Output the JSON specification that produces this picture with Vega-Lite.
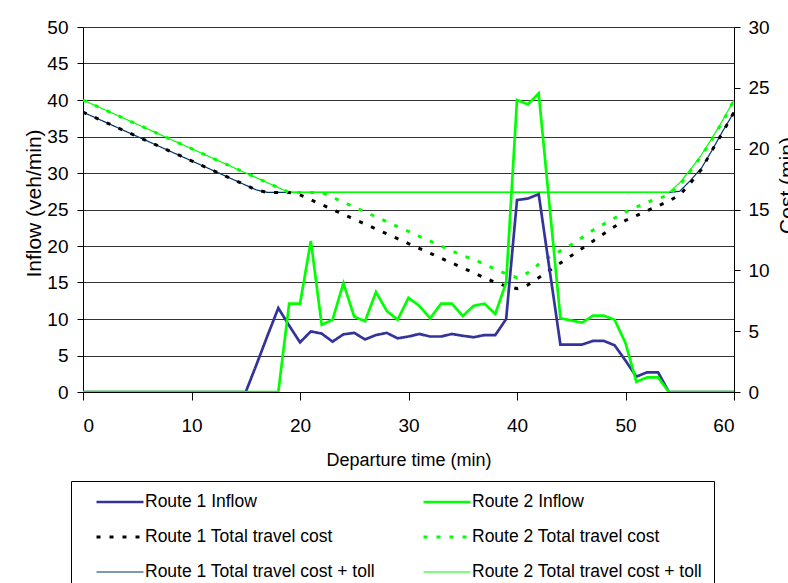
{
  "$schema": "https://vega.github.io/schema/vega-lite/v6.json",
  "width": 651,
  "height": 365,
  "autosize": {"type": "none"},
  "padding": {"left": 83, "top": 27, "right": 54, "bottom": 191},
  "background": "white",
  "data": {
    "values": [
      {"t": 0, "r1_inflow": 0, "r2_inflow": 0, "r1_cost": 23.0, "r2_cost": 24.0, "r1_cost_toll": 23.0, "r2_cost_toll": 24.0},
      {"t": 1, "r1_inflow": 0, "r2_inflow": 0, "r1_cost": 22.6, "r2_cost": 23.6, "r1_cost_toll": 22.6, "r2_cost_toll": 23.6},
      {"t": 2, "r1_inflow": 0, "r2_inflow": 0, "r1_cost": 22.2, "r2_cost": 23.2, "r1_cost_toll": 22.2, "r2_cost_toll": 23.2},
      {"t": 3, "r1_inflow": 0, "r2_inflow": 0, "r1_cost": 21.8, "r2_cost": 22.8, "r1_cost_toll": 21.8, "r2_cost_toll": 22.8},
      {"t": 4, "r1_inflow": 0, "r2_inflow": 0, "r1_cost": 21.4, "r2_cost": 22.4, "r1_cost_toll": 21.4, "r2_cost_toll": 22.4},
      {"t": 5, "r1_inflow": 0, "r2_inflow": 0, "r1_cost": 21.0, "r2_cost": 22.0, "r1_cost_toll": 21.0, "r2_cost_toll": 22.0},
      {"t": 6, "r1_inflow": 0, "r2_inflow": 0, "r1_cost": 20.6, "r2_cost": 21.6, "r1_cost_toll": 20.6, "r2_cost_toll": 21.6},
      {"t": 7, "r1_inflow": 0, "r2_inflow": 0, "r1_cost": 20.2, "r2_cost": 21.2, "r1_cost_toll": 20.2, "r2_cost_toll": 21.2},
      {"t": 8, "r1_inflow": 0, "r2_inflow": 0, "r1_cost": 19.8, "r2_cost": 20.8, "r1_cost_toll": 19.8, "r2_cost_toll": 20.8},
      {"t": 9, "r1_inflow": 0, "r2_inflow": 0, "r1_cost": 19.4, "r2_cost": 20.4, "r1_cost_toll": 19.4, "r2_cost_toll": 20.4},
      {"t": 10, "r1_inflow": 0, "r2_inflow": 0, "r1_cost": 19.0, "r2_cost": 20.0, "r1_cost_toll": 19.0, "r2_cost_toll": 20.0},
      {"t": 11, "r1_inflow": 0, "r2_inflow": 0, "r1_cost": 18.6, "r2_cost": 19.6, "r1_cost_toll": 18.6, "r2_cost_toll": 19.6},
      {"t": 12, "r1_inflow": 0, "r2_inflow": 0, "r1_cost": 18.2, "r2_cost": 19.2, "r1_cost_toll": 18.2, "r2_cost_toll": 19.2},
      {"t": 13, "r1_inflow": 0, "r2_inflow": 0, "r1_cost": 17.8, "r2_cost": 18.8, "r1_cost_toll": 17.8, "r2_cost_toll": 18.8},
      {"t": 14, "r1_inflow": 0, "r2_inflow": 0, "r1_cost": 17.4, "r2_cost": 18.4, "r1_cost_toll": 17.4, "r2_cost_toll": 18.4},
      {"t": 15, "r1_inflow": 0, "r2_inflow": 0, "r1_cost": 17.0, "r2_cost": 18.0, "r1_cost_toll": 17.0, "r2_cost_toll": 18.0},
      {"t": 16, "r1_inflow": 3.8, "r2_inflow": 0, "r1_cost": 16.6, "r2_cost": 17.6, "r1_cost_toll": 16.6, "r2_cost_toll": 17.6},
      {"t": 17, "r1_inflow": 7.7, "r2_inflow": 0, "r1_cost": 16.4, "r2_cost": 17.2, "r1_cost_toll": 16.4, "r2_cost_toll": 17.2},
      {"t": 18, "r1_inflow": 11.5, "r2_inflow": 0, "r1_cost": 16.4, "r2_cost": 16.8, "r1_cost_toll": 16.4, "r2_cost_toll": 16.8},
      {"t": 19, "r1_inflow": 9.1, "r2_inflow": 12.1, "r1_cost": 16.4, "r2_cost": 16.4, "r1_cost_toll": 16.4, "r2_cost_toll": 16.4},
      {"t": 20, "r1_inflow": 6.8, "r2_inflow": 12.1, "r1_cost": 16.2, "r2_cost": 16.4, "r1_cost_toll": 16.4, "r2_cost_toll": 16.4},
      {"t": 21, "r1_inflow": 8.3, "r2_inflow": 20.7, "r1_cost": 15.8, "r2_cost": 16.4, "r1_cost_toll": 16.4, "r2_cost_toll": 16.4},
      {"t": 22, "r1_inflow": 8.0, "r2_inflow": 9.2, "r1_cost": 15.4, "r2_cost": 16.4, "r1_cost_toll": 16.4, "r2_cost_toll": 16.4},
      {"t": 23, "r1_inflow": 6.9, "r2_inflow": 9.9, "r1_cost": 15.0, "r2_cost": 16.0, "r1_cost_toll": 16.4, "r2_cost_toll": 16.4},
      {"t": 24, "r1_inflow": 7.9, "r2_inflow": 14.9, "r1_cost": 14.6, "r2_cost": 15.6, "r1_cost_toll": 16.4, "r2_cost_toll": 16.4},
      {"t": 25, "r1_inflow": 8.1, "r2_inflow": 10.3, "r1_cost": 14.2, "r2_cost": 15.2, "r1_cost_toll": 16.4, "r2_cost_toll": 16.4},
      {"t": 26, "r1_inflow": 7.2, "r2_inflow": 9.7, "r1_cost": 13.8, "r2_cost": 14.8, "r1_cost_toll": 16.4, "r2_cost_toll": 16.4},
      {"t": 27, "r1_inflow": 7.8, "r2_inflow": 13.7, "r1_cost": 13.4, "r2_cost": 14.4, "r1_cost_toll": 16.4, "r2_cost_toll": 16.4},
      {"t": 28, "r1_inflow": 8.1, "r2_inflow": 11.1, "r1_cost": 13.0, "r2_cost": 14.0, "r1_cost_toll": 16.4, "r2_cost_toll": 16.4},
      {"t": 29, "r1_inflow": 7.35, "r2_inflow": 9.9, "r1_cost": 12.6, "r2_cost": 13.6, "r1_cost_toll": 16.4, "r2_cost_toll": 16.4},
      {"t": 30, "r1_inflow": 7.6, "r2_inflow": 12.9, "r1_cost": 12.2, "r2_cost": 13.2, "r1_cost_toll": 16.4, "r2_cost_toll": 16.4},
      {"t": 31, "r1_inflow": 7.95, "r2_inflow": 11.8, "r1_cost": 11.8, "r2_cost": 12.8, "r1_cost_toll": 16.4, "r2_cost_toll": 16.4},
      {"t": 32, "r1_inflow": 7.6, "r2_inflow": 10.1, "r1_cost": 11.4, "r2_cost": 12.4, "r1_cost_toll": 16.4, "r2_cost_toll": 16.4},
      {"t": 33, "r1_inflow": 7.6, "r2_inflow": 12.1, "r1_cost": 11.0, "r2_cost": 12.0, "r1_cost_toll": 16.4, "r2_cost_toll": 16.4},
      {"t": 34, "r1_inflow": 7.95, "r2_inflow": 12.1, "r1_cost": 10.6, "r2_cost": 11.6, "r1_cost_toll": 16.4, "r2_cost_toll": 16.4},
      {"t": 35, "r1_inflow": 7.7, "r2_inflow": 10.4, "r1_cost": 10.2, "r2_cost": 11.2, "r1_cost_toll": 16.4, "r2_cost_toll": 16.4},
      {"t": 36, "r1_inflow": 7.5, "r2_inflow": 11.8, "r1_cost": 9.8, "r2_cost": 10.9, "r1_cost_toll": 16.4, "r2_cost_toll": 16.4},
      {"t": 37, "r1_inflow": 7.8, "r2_inflow": 12.1, "r1_cost": 9.4, "r2_cost": 10.5, "r1_cost_toll": 16.4, "r2_cost_toll": 16.4},
      {"t": 38, "r1_inflow": 7.8, "r2_inflow": 10.7, "r1_cost": 9.0, "r2_cost": 10.1, "r1_cost_toll": 16.4, "r2_cost_toll": 16.4},
      {"t": 39, "r1_inflow": 10.0, "r2_inflow": 15.0, "r1_cost": 8.7, "r2_cost": 9.7, "r1_cost_toll": 16.4, "r2_cost_toll": 16.4},
      {"t": 40, "r1_inflow": 26.3, "r2_inflow": 40.0, "r1_cost": 8.5, "r2_cost": 9.4, "r1_cost_toll": 16.4, "r2_cost_toll": 16.4},
      {"t": 41, "r1_inflow": 26.5, "r2_inflow": 39.4, "r1_cost": 8.8, "r2_cost": 9.8, "r1_cost_toll": 16.4, "r2_cost_toll": 16.4},
      {"t": 42, "r1_inflow": 27.1, "r2_inflow": 40.9, "r1_cost": 9.4, "r2_cost": 10.5, "r1_cost_toll": 16.4, "r2_cost_toll": 16.4},
      {"t": 43, "r1_inflow": 16.8, "r2_inflow": 25.5, "r1_cost": 10.0, "r2_cost": 11.1, "r1_cost_toll": 16.4, "r2_cost_toll": 16.4},
      {"t": 44, "r1_inflow": 6.5, "r2_inflow": 10.1, "r1_cost": 10.6, "r2_cost": 11.6, "r1_cost_toll": 16.4, "r2_cost_toll": 16.4},
      {"t": 45, "r1_inflow": 6.5, "r2_inflow": 9.8, "r1_cost": 11.2, "r2_cost": 12.1, "r1_cost_toll": 16.4, "r2_cost_toll": 16.4},
      {"t": 46, "r1_inflow": 6.5, "r2_inflow": 9.5, "r1_cost": 11.8, "r2_cost": 12.7, "r1_cost_toll": 16.4, "r2_cost_toll": 16.4},
      {"t": 47, "r1_inflow": 7.0, "r2_inflow": 10.45, "r1_cost": 12.4, "r2_cost": 13.3, "r1_cost_toll": 16.4, "r2_cost_toll": 16.4},
      {"t": 48, "r1_inflow": 7.0, "r2_inflow": 10.45, "r1_cost": 13.0, "r2_cost": 13.8, "r1_cost_toll": 16.4, "r2_cost_toll": 16.4},
      {"t": 49, "r1_inflow": 6.4, "r2_inflow": 9.9, "r1_cost": 13.6, "r2_cost": 14.3, "r1_cost_toll": 16.4, "r2_cost_toll": 16.4},
      {"t": 50, "r1_inflow": 4.3, "r2_inflow": 6.7, "r1_cost": 14.1, "r2_cost": 14.8, "r1_cost_toll": 16.4, "r2_cost_toll": 16.4},
      {"t": 51, "r1_inflow": 2.1, "r2_inflow": 1.4, "r1_cost": 14.5, "r2_cost": 15.2, "r1_cost_toll": 16.4, "r2_cost_toll": 16.4},
      {"t": 52, "r1_inflow": 2.7, "r2_inflow": 2.0, "r1_cost": 14.9, "r2_cost": 15.6, "r1_cost_toll": 16.4, "r2_cost_toll": 16.4},
      {"t": 53, "r1_inflow": 2.7, "r2_inflow": 2.0, "r1_cost": 15.3, "r2_cost": 15.9, "r1_cost_toll": 16.4, "r2_cost_toll": 16.4},
      {"t": 54, "r1_inflow": 0, "r2_inflow": 0, "r1_cost": 15.7, "r2_cost": 16.2, "r1_cost_toll": 16.4, "r2_cost_toll": 16.4},
      {"t": 55, "r1_inflow": 0, "r2_inflow": 0, "r1_cost": 16.2, "r2_cost": 17.0, "r1_cost_toll": 16.5, "r2_cost_toll": 17.2},
      {"t": 56, "r1_inflow": 0, "r2_inflow": 0, "r1_cost": 17.2, "r2_cost": 18.2, "r1_cost_toll": 17.4, "r2_cost_toll": 18.3},
      {"t": 57, "r1_inflow": 0, "r2_inflow": 0, "r1_cost": 18.3, "r2_cost": 19.4, "r1_cost_toll": 18.4, "r2_cost_toll": 19.5},
      {"t": 58, "r1_inflow": 0, "r2_inflow": 0, "r1_cost": 19.9, "r2_cost": 20.8, "r1_cost_toll": 19.9, "r2_cost_toll": 20.9},
      {"t": 59, "r1_inflow": 0, "r2_inflow": 0, "r1_cost": 21.4, "r2_cost": 22.3, "r1_cost_toll": 21.5, "r2_cost_toll": 22.4},
      {"t": 60, "r1_inflow": 0, "r2_inflow": 0, "r1_cost": 23.0, "r2_cost": 24.0, "r1_cost_toll": 23.0, "r2_cost_toll": 24.0}
    ]
  },
  "transform": [
    {"fold": ["r1_cost_toll", "r2_cost_toll", "r1_cost", "r2_cost", "r1_inflow", "r2_inflow"], "as": ["series", "value"]}
  ],
  "encoding": {
    "x": {
      "field": "t", "type": "quantitative",
      "scale": {"domain": [0, 60], "nice": false},
      "axis": {
        "title": "Departure time (min)", "values": [0, 10, 20, 30, 40, 50, 60],
        "grid": false, "tickSize": 8, "labelPadding": 16,
        "titleFontSize": 18, "titleBaseline": "alphabetic", "titleY": 73
      }
    },
    "color": {
      "field": "series", "type": "nominal",
      "scale": {
        "domain": ["r1_inflow", "r1_cost", "r1_cost_toll", "r2_inflow", "r2_cost", "r2_cost_toll"],
        "range": ["#333399", "#000000", "#003366", "#00ff00", "#00ff00", "#00ff00"]
      },
      "legend": {"labelExpr": "datum.value == 'r1_inflow' ? 'Route 1 Inflow' : datum.value == 'r2_inflow' ? 'Route 2 Inflow' : datum.value == 'r1_cost' ? 'Route 1 Total travel cost' : datum.value == 'r2_cost' ? 'Route 2 Total travel cost' : datum.value == 'r1_cost_toll' ? 'Route 1 Total travel cost + toll' : 'Route 2 Total travel cost + toll'"}
    },
    "strokeDash": {
      "field": "series", "type": "nominal",
      "scale": {
        "domain": ["r1_inflow", "r1_cost", "r1_cost_toll", "r2_inflow", "r2_cost", "r2_cost_toll"],
        "range": [[1, 0], [4, 9], [1, 0], [1, 0], [4, 9], [1, 0]]
      },
      "legend": {"labelExpr": "datum.value == 'r1_inflow' ? 'Route 1 Inflow' : datum.value == 'r2_inflow' ? 'Route 2 Inflow' : datum.value == 'r1_cost' ? 'Route 1 Total travel cost' : datum.value == 'r2_cost' ? 'Route 2 Total travel cost' : datum.value == 'r1_cost_toll' ? 'Route 1 Total travel cost + toll' : 'Route 2 Total travel cost + toll'"}
    },
    "strokeWidth": {
      "field": "series", "type": "nominal",
      "scale": {
        "type": "ordinal",
        "domain": ["r1_inflow", "r1_cost", "r1_cost_toll", "r2_inflow", "r2_cost", "r2_cost_toll"],
        "range": [2.7, 3, 1.2, 2.7, 3, 1.2]
      },
      "legend": {"labelExpr": "datum.value == 'r1_inflow' ? 'Route 1 Inflow' : datum.value == 'r2_inflow' ? 'Route 2 Inflow' : datum.value == 'r1_cost' ? 'Route 1 Total travel cost' : datum.value == 'r2_cost' ? 'Route 2 Total travel cost' : datum.value == 'r1_cost_toll' ? 'Route 1 Total travel cost + toll' : 'Route 2 Total travel cost + toll'"}
    }
  },
  "layer": [
    {
      "transform": [{"filter": {"field": "series", "oneOf": ["r1_cost_toll", "r2_cost_toll", "r1_cost", "r2_cost"]}}],
      "mark": {"type": "line", "clip": true},
      "encoding": {
        "y": {
          "field": "value", "type": "quantitative",
          "scale": {"domain": [0, 30], "nice": false},
          "axis": {
            "orient": "right", "title": "Cost (min)", "grid": false,
            "values": [0, 5, 10, 15, 20, 25, 30], "tickSize": 6, "labelPadding": 8,
            "titleAngle": -90, "titleBaseline": "alphabetic", "titleAlign": "center",
            "titleX": 59, "titleY": 158, "titleFontSize": 21
          }
        }
      }
    },
    {
      "transform": [{"filter": {"field": "series", "oneOf": ["r1_inflow", "r2_inflow"]}}],
      "mark": {"type": "line", "clip": true},
      "encoding": {
        "y": {
          "field": "value", "type": "quantitative",
          "scale": {"domain": [0, 50], "nice": false},
          "axis": {
            "orient": "left", "title": "Inflow (veh/min)", "grid": true,
            "values": [0, 5, 10, 15, 20, 25, 30, 35, 40, 45, 50], "tickSize": 6, "labelPadding": 9,
            "titleAngle": -90, "titleBaseline": "alphabetic", "titleAlign": "center",
            "titleX": -43, "titleY": 176, "titleFontSize": 21
          }
        }
      }
    }
  ],
  "resolve": {"scale": {"y": "independent"}, "axis": {"y": "independent"}},
  "config": {
    "view": {"stroke": null},
    "font": "Liberation Sans",
    "axis": {
      "domainColor": "#000000", "domainWidth": 1, "tickColor": "#000000", "tickWidth": 1,
      "labelColor": "#000000", "labelFont": "Liberation Sans", "labelFontSize": 19,
      "titleColor": "#000000", "titleFont": "Liberation Sans", "titleFontWeight": "normal",
      "gridColor": "#333333", "gridWidth": 1, "gridOpacity": 1
    },
    "legend": {
      "orient": "none", "legendX": -12, "legendY": 454, "title": null,
      "columns": 2, "symbolType": "stroke", "symbolSize": 2209, "symbolStrokeColor": null,
      "clipHeight": 20, "symbolOffset": 13,
      "labelFont": "Liberation Sans", "labelFontSize": 17.5, "labelColor": "#000000",
      "labelLimit": 400, "labelOffset": 0, "rowPadding": 15, "columnPadding": 33,
      "padding": 11, "strokeColor": "#000000", "fillColor": "#ffffff"
    }
  }
}
